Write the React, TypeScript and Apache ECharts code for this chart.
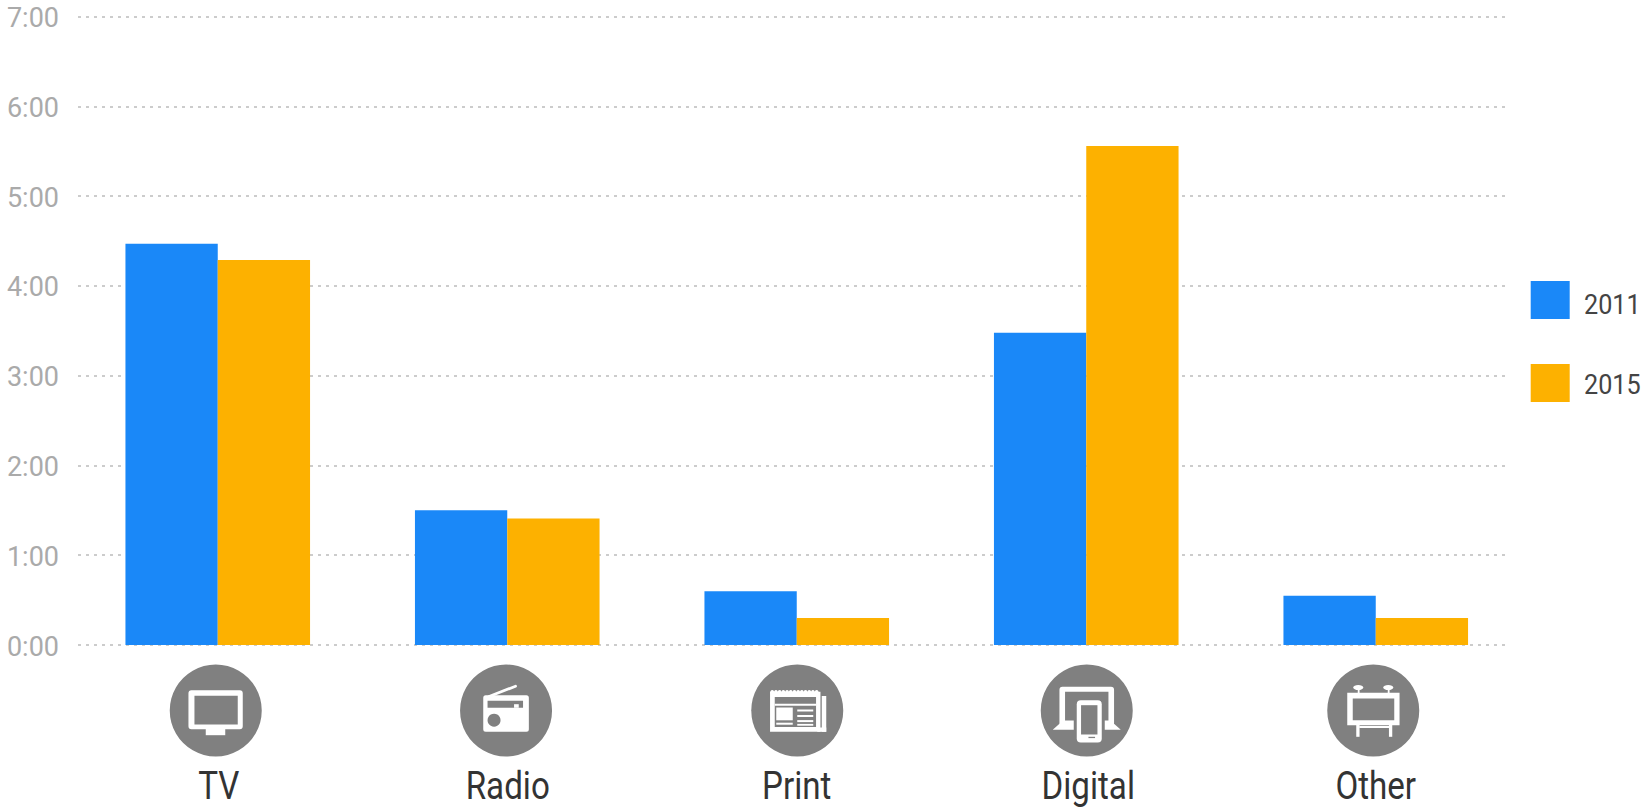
import React, { useEffect, useRef } from "react";
import * as echarts from "echarts";

// Average daily media time, in hours
const categories = ["TV", "Radio", "Print", "Digital", "Other"];
const values2011 = [4.47, 1.5, 0.6, 3.48, 0.55];
const values2015 = [4.29, 1.41, 0.3, 5.56, 0.3];
const seriesNames = ["2011", "2015"];
const hourTicks = ["0:00", "1:00", "2:00", "3:00", "4:00", "5:00", "6:00", "7:00"];

const BLUE = "#1a88f8";
const ORANGE = "#fdb100";
const DISC = "#808080";
const WHITE = "#ffffff";
const LABEL_FONT = "Roboto, sans-serif";

const rect = (x0: number, y0: number, x1: number, y1: number, fill: string, r = 0) => ({
  type: "rect",
  shape: { x: x0, y: y0, width: x1 - x0, height: y1 - y0, r },
  style: { fill },
});
const circle = (cx: number, cy: number, r: number, fill: string) => ({
  type: "circle",
  shape: { cx, cy, r },
  style: { fill },
});
const ellipse = (cx: number, cy: number, rx: number, ry: number, fill: string) => ({
  type: "ellipse",
  shape: { cx, cy, rx, ry },
  style: { fill },
});
const polygon = (points: number[][], fill: string) => ({
  type: "polygon",
  shape: { points },
  style: { fill },
});
const stroke = (x1: number, y1: number, x2: number, y2: number, w: number) => ({
  type: "line",
  shape: { x1, y1, x2, y2 },
  style: { stroke: WHITE, lineWidth: w, lineCap: "round" },
});

// Roboto squeezed horizontally stands in for its condensed cut
const narrowText = (
  text: string,
  x: number,
  y: number,
  size: number,
  fill: string,
  align: string,
  squeeze: number,
) => ({
  type: "text",
  x,
  y,
  scaleX: squeeze,
  silent: true,
  style: { text, fontFamily: LABEL_FONT, fontSize: size, fill, align, verticalAlign: "middle" },
});

// Pictograms are laid out around the centre of their disc
const tvIcon = () => [
  rect(-10, 16, 9.5, 24.7, WHITE),
  rect(-27.3, -20.3, 27, 18.7, WHITE, 3),
  rect(-21.3, -14.7, 22, 14, DISC),
];

const radioIcon = () => [
  stroke(-17, -14, 9.5, -24.3, 2.8),
  rect(-22.8, -15.3, 22.8, 21.3, WHITE, 2.5),
  rect(-18.5, -9.7, 17, -2.7, DISC),
  rect(8, -6.3, 12.7, -2.7, WHITE),
  circle(-12, 9.7, 6.5, DISC),
];

const printIcon = () => {
  const teeth = [-25, -21.3, -17.6, -13.9, -10.2, -6.5, -2.8, 0.9, 4.6, 8.3, 12, 15.7, 19.4].map((x) =>
    circle(x, -18.5, 1.9, WHITE),
  );
  return [
    ...teeth,
    rect(-27.2, -18.7, 23.2, 21.3, WHITE),
    rect(-22.5, -13.5, 18.8, 16.5, DISC),
    rect(-22.5, -6.8, 18.8, -4.8, WHITE),
    rect(-21, -3, -4.5, 9.8, WHITE),
    rect(-21, 12.2, -4.5, 14.2, WHITE),
    rect(0, -1, 16, 1, WHITE),
    rect(0, 4.5, 16, 6.5, WHITE),
    rect(0, 9.6, 16, 11.6, WHITE),
    rect(0, 13.4, 16, 15.2, WHITE),
    rect(24.5, -14.5, 29, 21.3, WHITE),
    rect(20, 17, 29, 21.3, WHITE),
  ];
};

const digitalIcon = () => [
  rect(-27.3, -23.7, 27.3, 16, WHITE, 3),
  rect(-21.7, -18.7, 21.7, 10, DISC),
  polygon([[-27, 13], [-34, 19.3], [34, 19.3], [27, 13]], WHITE),
  rect(-13, -13, 18, 33, DISC, 5),
  rect(-10, -10.3, 15, 32, WHITE, 4),
  rect(-5.7, -5.3, 10.7, 24, DISC),
  rect(1.7, 26.3, 8.3, 27.6, DISC),
];

const otherIcon = () => [
  rect(-15.5, -22, -13.7, -15, WHITE),
  rect(14.5, -22, 16.3, -15, WHITE),
  ellipse(-15, -23, 5, 2.6, WHITE),
  ellipse(15, -23, 5, 2.6, WHITE),
  rect(-17, 14, -13.7, 26.3, WHITE),
  rect(15.7, 14, 19, 26.3, WHITE),
  rect(-14, 15.5, 16, 17.5, WHITE),
  rect(-26, -17.7, 26.3, 14.7, WHITE),
  rect(-20.5, -12, 21, 9.7, DISC),
];

const iconBuilders = [tvIcon, radioIcon, printIcon, digitalIcon, otherIcon];
const discNudge = [-2, -1.2, 0.5, 0.5, -2.5];
const nameNudge = [1, 0.5, 0, 2, 0];

const renderCategoryIcon = (params: any, api: any) => {
  const i = params.dataIndex;
  const [x] = api.coord([api.value(0), 0]);
  return {
    type: "group",
    children: [
      {
        type: "group",
        x: x + discNudge[i],
        y: 710.5,
        children: [circle(0, 0, 46, DISC), ...iconBuilders[i]()],
      },
      narrowText(categories[i], x + nameNudge[i], 786, 39, "#333333", "center", 0.85),
    ],
  };
};

const renderHourTick = (params: any, api: any) => {
  const [x, y] = api.coord([0, api.value(1)]);
  return narrowText(hourTicks[params.dataIndex], x - 19, y + 1.5, 27, "#aaaaaa", "right", 1);
};

export default function App() {
  const ref = useRef<HTMLDivElement>(null);

  useEffect(() => {
    const chart = echarts.init(ref.current!, undefined, { renderer: "svg" });
    const barBand = { left: 73, width: 1447.5, top: 16.7, height: 628.3 };
    const ruleBand = { left: 78, width: 1427, top: 16.7, height: 628.3 };
    const barStyle = { type: "bar", xAxisIndex: 1, yAxisIndex: 1, barWidth: 92.3, barGap: 0 };

    chart.setOption({
      animation: false,
      backgroundColor: "#ffffff",
      grid: [ruleBand, barBand],
      legend: {
        data: seriesNames,
        orient: "vertical",
        left: 1525.7,
        top: 276,
        icon: "rect",
        itemWidth: 39,
        itemHeight: 38,
        itemGap: 45,
        formatter: () => " ",
        textStyle: { fontSize: 10 },
      },
      graphic: [
        narrowText(seriesNames[0], 1584, 304.5, 28, "#444444", "left", 0.9),
        narrowText(seriesNames[1], 1584, 384.5, 28, "#444444", "left", 0.9),
      ],
      xAxis: [
        { gridIndex: 0, type: "value", min: 0, max: 1, show: false },
        {
          gridIndex: 1,
          type: "category",
          data: categories,
          axisLine: { show: false },
          axisTick: { show: false },
          axisLabel: { show: false },
        },
      ],
      yAxis: [
        {
          gridIndex: 0,
          type: "value",
          min: 0,
          max: 7,
          interval: 1,
          axisLine: { show: false },
          axisTick: { show: false },
          axisLabel: { show: false },
          splitLine: { lineStyle: { color: "#cccccc", width: 2, type: [3, 5] } },
        },
        { gridIndex: 1, type: "value", min: 0, max: 7, interval: 1, show: false, splitLine: { show: false } },
      ],
      series: [
        { ...barStyle, name: seriesNames[0], data: values2011, itemStyle: { color: BLUE } },
        { ...barStyle, name: seriesNames[1], data: values2015, itemStyle: { color: ORANGE } },
        {
          type: "custom",
          xAxisIndex: 1,
          yAxisIndex: 1,
          clip: false,
          silent: true,
          data: categories.map((_, i) => [i, 0]),
          renderItem: renderCategoryIcon,
        },
        {
          type: "custom",
          xAxisIndex: 0,
          yAxisIndex: 0,
          clip: false,
          silent: true,
          data: hourTicks.map((_, h) => [0, h]),
          renderItem: renderHourTick,
        },
      ],
    });
    return () => chart.dispose();
  }, []);

  return <div ref={ref} style={{ position: "fixed", left: 0, top: 0, width: 1646, height: 808 }} />;
}
